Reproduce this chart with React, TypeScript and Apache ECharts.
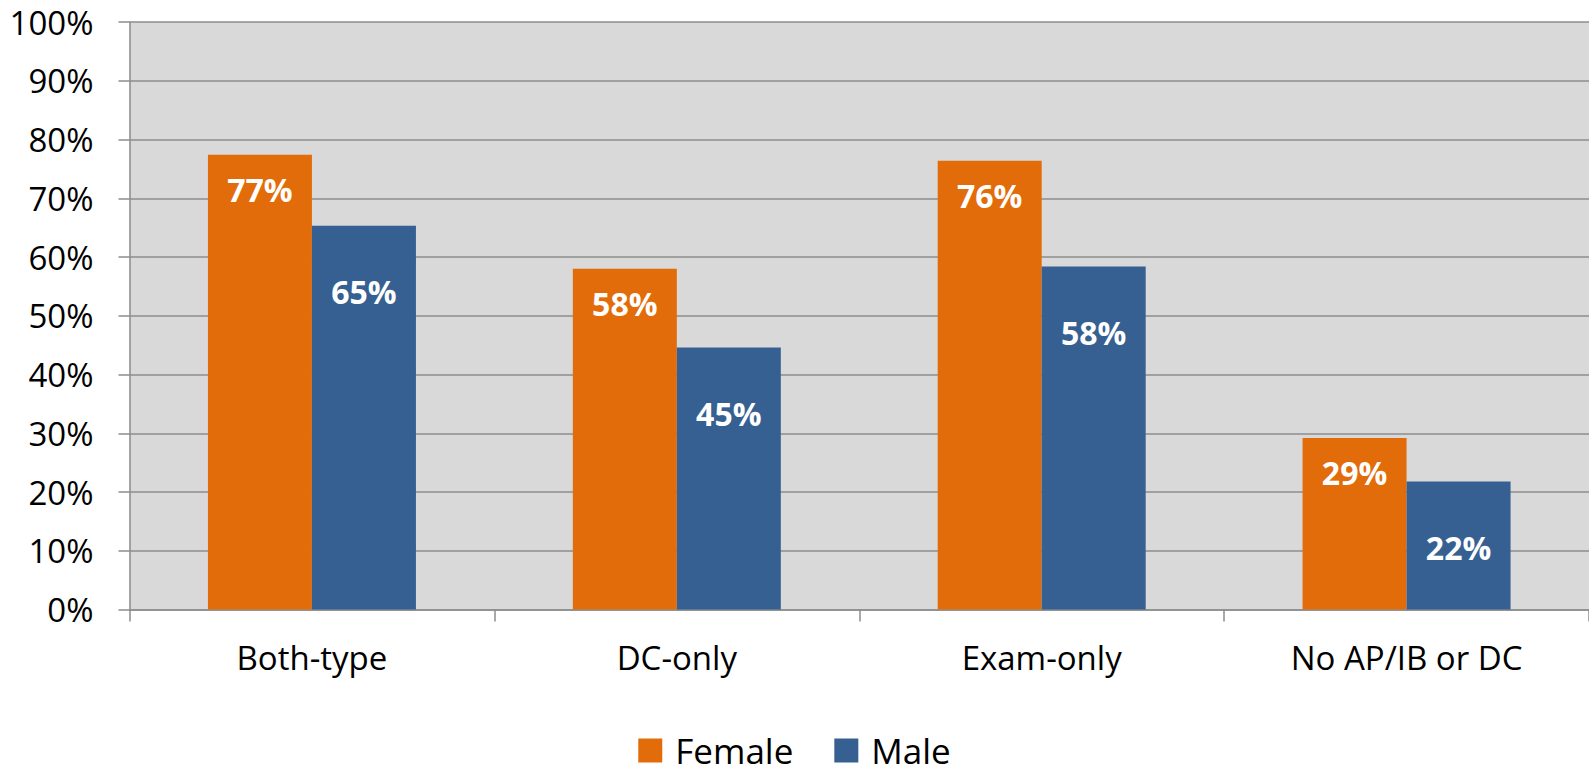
import React, { useEffect, useRef } from "react";
import * as echarts from "echarts";

const categories = ["Both-type", "DC-only", "Exam-only", "No AP/IB or DC"];
const femaleValues = [77.4, 58.0, 76.4, 29.2];
const maleValues = [65.3, 44.6, 58.4, 21.8];
const seriesNames = ["Female", "Male"];

const FONT = "'Open Sans', 'Noto Sans', sans-serif";

export default function App() {
  const ref = useRef<HTMLDivElement>(null);
  useEffect(() => {
    if (!ref.current) return;
    const chart = echarts.init(ref.current, null, { renderer: "svg" });
    const labelFmt = (p: any) => Math.round(p.value) + "%";
    chart.setOption({
      animation: false,
      textStyle: { fontFamily: FONT },
      grid: {
        left: 129.5,
        right: 0,
        top: 22,
        bottom: 163.5,
        show: true,
        backgroundColor: "#d9d9d9",
        borderWidth: 0,
      },
      legend: {
        bottom: 0,
        left: "center",
        itemWidth: 24,
        itemHeight: 24,
        itemGap: 41,
        icon: "rect",
        textStyle: { fontSize: 35, color: "#000", fontFamily: FONT, padding: [0, 0, 0, 8] },
        data: seriesNames,
      },
      xAxis: {
        type: "category",
        data: categories,
        axisLine: { lineStyle: { color: "#8c8c8c", width: 1.5 } },
        axisTick: { show: true, length: 12, lineStyle: { color: "#8c8c8c", width: 1.5 } },
        axisLabel: { fontSize: 33, color: "#000", margin: 31, fontFamily: FONT },
      },
      yAxis: {
        type: "value",
        min: 0,
        max: 100,
        interval: 10,
        axisLine: { show: true, lineStyle: { color: "#8c8c8c", width: 1.5 } },
        axisTick: { show: true, length: 11, lineStyle: { color: "#8c8c8c", width: 1.5 } },
        axisLabel: { fontSize: 33, color: "#000", margin: 36, formatter: "{value}%", fontFamily: FONT },
        splitLine: { show: true, lineStyle: { color: "#8c8c8c", width: 1.5 } },
      },
      series: [
        {
          name: seriesNames[0],
          type: "bar",
          data: femaleValues,
          barWidth: 104,
          barGap: "0%",
          itemStyle: { color: "#e36c0a" },
          label: {
            show: true,
            position: "insideTop",
            distance: 19,
            formatter: labelFmt,
            color: "#fff",
            fontSize: 32,
            fontWeight: "bold",
            fontFamily: FONT,
          },
        },
        {
          name: seriesNames[1],
          type: "bar",
          data: maleValues,
          barWidth: 104,
          barGap: "0%",
          itemStyle: { color: "#366092" },
          label: {
            show: true,
            position: "insideTop",
            distance: 50,
            formatter: labelFmt,
            color: "#fff",
            fontSize: 32,
            fontWeight: "bold",
            fontFamily: FONT,
          },
        },
      ],
    });
    return () => chart.dispose();
  }, []);
  return <div ref={ref} style={{ width: 1589, height: 773, position: "absolute", left: 0, top: 0 }} />;
}
